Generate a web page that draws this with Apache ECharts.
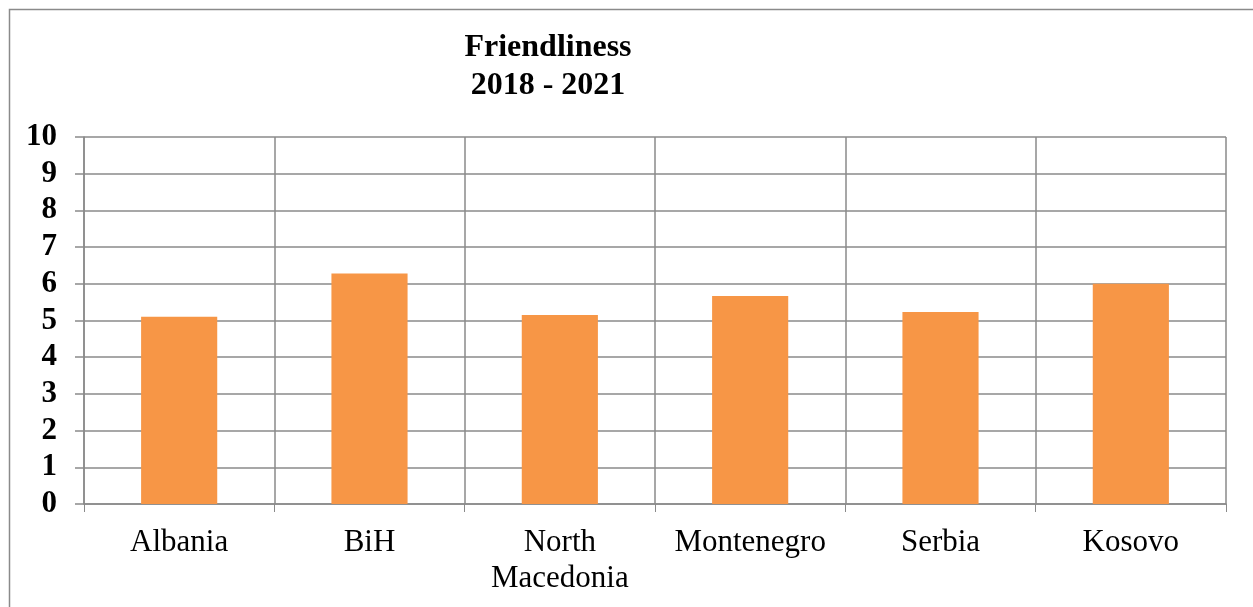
<!DOCTYPE html>
<html>
<head>
<meta charset="utf-8">
<script src="https://cdn.jsdelivr.net/npm/echarts@6/dist/echarts.min.js"></script>
<style>
html,body{margin:0;padding:0;background:#fff;}
#chart{width:1253px;height:607px;}
</style>
</head>
<body>
<div id="chart"></div>
<script>
const categories = ['Albania', 'BiH', 'North\nMacedonia', 'Montenegro', 'Serbia', 'Kosovo'];
const friendliness = [5.10, 6.28, 5.15, 5.67, 5.23, 6.00];
const yTicks = { min: 0, max: 10, interval: 1 };
const titleText = 'Friendliness\n2018 - 2021';

const chart = echarts.init(document.getElementById('chart'), null, { renderer: 'canvas' });
const gridColor = '#8a8a8a';
chart.setOption({
  animation: false,
  backgroundColor: '#ffffff',
  graphic: [{
    type: 'rect',
    left: 7, top: 7,
    shape: { width: 1300, height: 700 },
    style: { fill: 'none', stroke: gridColor, lineWidth: 1.5 },
    z: -1
  }],
  title: {
    text: titleText,
    left: 543,
    textAlign: 'center',
    top: 24,
    textStyle: {
      fontFamily: 'Liberation Serif',
      fontWeight: 'bold',
      fontSize: 32,
      lineHeight: 38,
      color: '#000'
    }
  },
  grid: { left: 84, right: 27, top: 137, bottom: 103, containLabel: false },
  xAxis: {
    type: 'category',
    data: categories,
    boundaryGap: true,
    axisLine: { show: true, lineStyle: { color: gridColor, width: 1.5 } },
    axisTick: { show: true, length: 8, alignWithLabel: false, lineStyle: { color: gridColor, width: 1 } },
    splitLine: { show: true, lineStyle: { color: gridColor, width: 1.5 } },
    axisLabel: {
      margin: 21,
      fontFamily: 'Liberation Serif',
      fontSize: 31,
      lineHeight: 36,
      color: '#000',
      interval: 0
    }
  },
  yAxis: {
    type: 'value',
    min: yTicks.min, max: yTicks.max, interval: yTicks.interval,
    axisLine: { show: true, lineStyle: { color: gridColor, width: 1.5 } },
    axisTick: { show: true, length: 9, lineStyle: { color: gridColor, width: 1.5 } },
    splitLine: { show: true, lineStyle: { color: gridColor, width: 1.5 } },
    axisLabel: {
      margin: 27,
      fontFamily: 'Liberation Serif',
      fontWeight: 'bold',
      fontSize: 31,
      color: '#000'
    }
  },
  series: [{
    type: 'bar',
    data: friendliness,
    barWidth: '40%',
    itemStyle: { color: '#F79646' }
  }]
});
</script>
</body>
</html>
